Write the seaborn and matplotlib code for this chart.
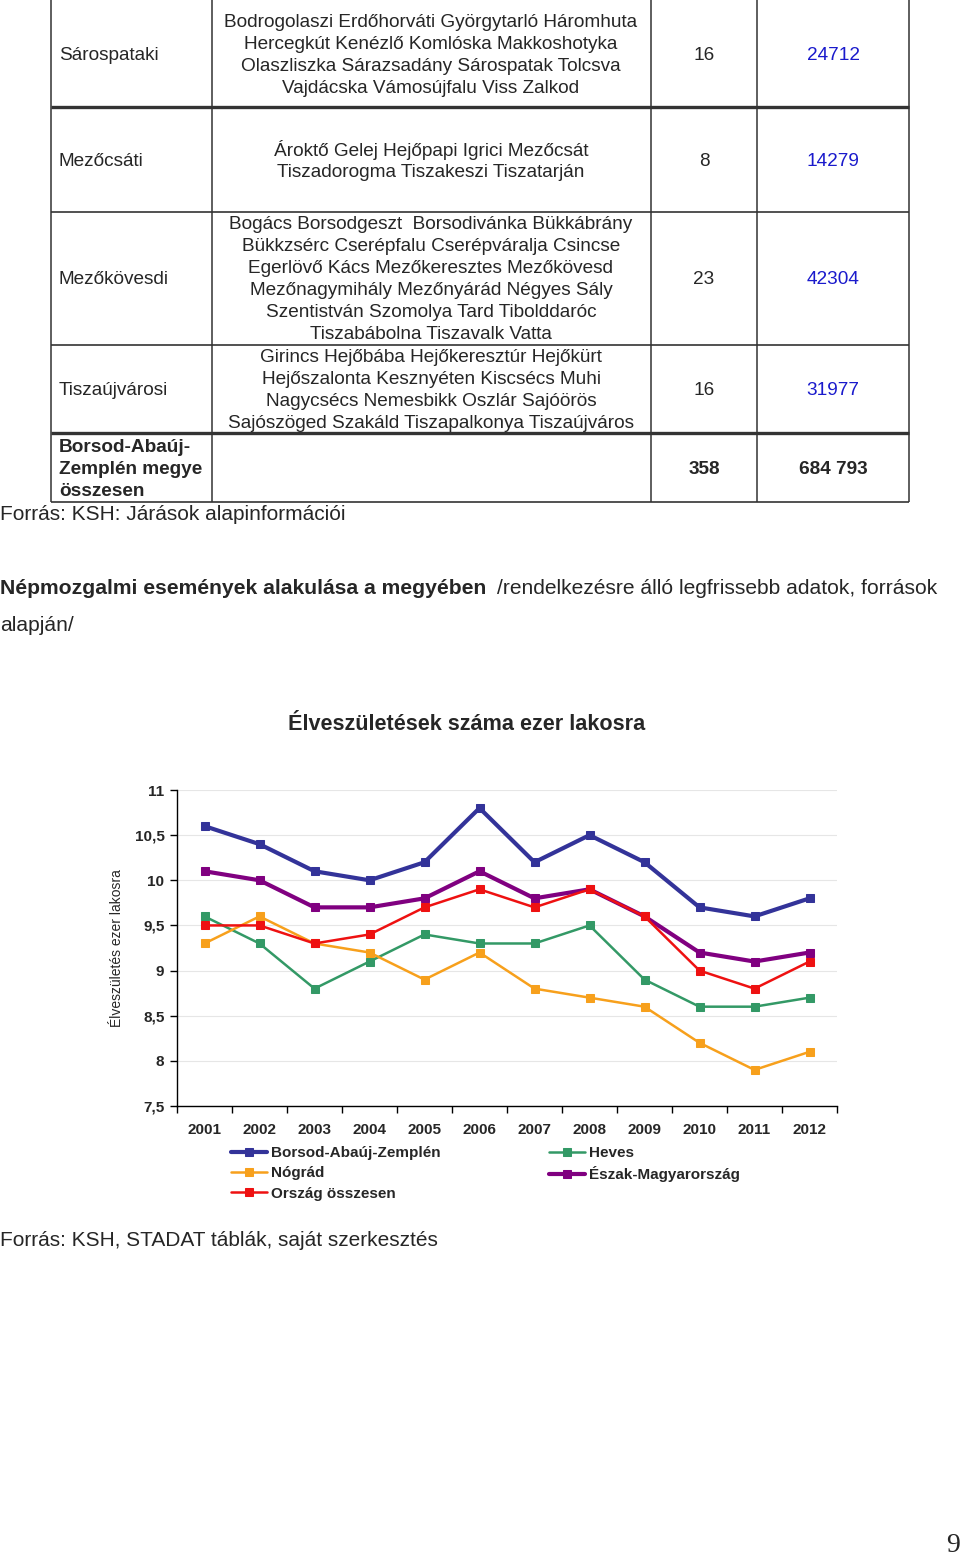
import numpy as np
import pandas as pd
import matplotlib
matplotlib.use('Agg')
import matplotlib.pyplot as plt
import seaborn as sns

sns.set_style('white')
plt.rcParams['font.family'] = ['Liberation Sans', 'DejaVu Sans']

# table data (continued table from previous page)
districts = ['Sárospataki', 'Mezőcsáti', 'Mezőkövesdi', 'Tiszaújvárosi']
settlements = [
    ['Bodrogolaszi Erdőhorváti Györgytarló Háromhuta',
     'Hercegkút Kenézlő Komlóska Makkoshotyka',
     'Olaszliszka Sárazsadány Sárospatak Tolcsva',
     'Vajdácska Vámosújfalu Viss Zalkod'],
    ['Ároktő Gelej Hejőpapi Igrici Mezőcsát',
     'Tiszadorogma Tiszakeszi Tiszatarján'],
    ['Bogács Borsodgeszt  Borsodivánka Bükkábrány',
     'Bükkzsérc Cserépfalu Cserépváralja Csincse',
     'Egerlövő Kács Mezőkeresztes Mezőkövesd',
     'Mezőnagymihály Mezőnyárád Négyes Sály',
     'Szentistván Szomolya Tard Tibolddaróc',
     'Tiszabábolna Tiszavalk Vatta'],
    ['Girincs Hejőbába Hejőkeresztúr Hejőkürt',
     'Hejőszalonta Kesznyéten Kiscsécs Muhi',
     'Nagycsécs Nemesbikk Oszlár Sajóörös',
     'Sajószöged Szakáld Tiszapalkonya Tiszaújváros']]
n_settlements = ['16', '8', '23', '16']
population = ['24712', '14279', '42304', '31977']
total_label = ['Borsod-Abaúj-', 'Zemplén megye', 'összesen']
total_settlements = '358'
total_population = '684 793'

# chart data
years = [str(y) for y in range(2001, 2013)]
borsod = [10.6, 10.4, 10.1, 10.0, 10.2, 10.8, 10.2, 10.5, 10.2, 9.7, 9.6, 9.8]
heves = [9.6, 9.3, 8.8, 9.1, 9.4, 9.3, 9.3, 9.5, 8.9, 8.6, 8.6, 8.7]
nograd = [9.3, 9.6, 9.3, 9.2, 8.9, 9.2, 8.8, 8.7, 8.6, 8.2, 7.9, 8.1]
eszak = [10.1, 10.0, 9.7, 9.7, 9.8, 10.1, 9.8, 9.9, 9.6, 9.2, 9.1, 9.2]
orszag = [9.5, 9.5, 9.3, 9.4, 9.7, 9.9, 9.7, 9.9, 9.6, 9.0, 8.8, 9.1]

series = {
    'Borsod-Abaúj-Zemplén': borsod,
    'Heves': heves,
    'Nógrád': nograd,
    'Észak-Magyarország': eszak,
    'Ország összesen': orszag,
}
colors = {
    'Borsod-Abaúj-Zemplén': '#333399',
    'Heves': '#339966',
    'Nógrád': '#F7A01C',
    'Észak-Magyarország': '#800080',
    'Ország összesen': '#EE1111',
}
widths = {
    'Borsod-Abaúj-Zemplén': 3.0,
    'Heves': 1.8,
    'Nógrád': 1.8,
    'Észak-Magyarország': 3.0,
    'Ország összesen': 1.8,
}
ytick_vals = [7.5, 8, 8.5, 9, 9.5, 10, 10.5, 11]
ytick_labels = ['7,5', '8', '8,5', '9', '9,5', '10', '10,5', '11']

W, H = 960, 1558
fig = plt.figure(figsize=(W / 100, H / 100), dpi=100)

# page layer in pixel coordinates
page = fig.add_axes([0, 0, 1, 1])
page.set_xlim(0, W)
page.set_ylim(H, 0)
page.axis('off')

col_x = [51, 212, 651, 757, 909]
row_y = [0, 107, 212, 345, 433, 502]
row_lw = [0, 2.4, 1.2, 1.2, 2.4, 1.2]
line_col = '#333333'
for x in col_x:
    page.plot([x, x], [0, 502], color=line_col, lw=1.1, solid_capstyle='butt')
for y, lw in zip(row_y[1:], row_lw[1:]):
    page.plot([col_x[0], col_x[-1]], [y, y], color=line_col, lw=lw, solid_capstyle='butt')

fs = 13.7
line_h = 22
centers = [55, 161, 279, 390]
for i, name in enumerate(districts):
    cy = centers[i]
    page.text(59, cy, name, fontsize=fs, ha='left', va='center')
    lines = settlements[i]
    n = len(lines)
    for j, ln in enumerate(lines):
        page.text(431, cy + (j - (n - 1) / 2) * line_h, ln, fontsize=fs,
                  ha='center', va='center')
    page.text(704, cy, n_settlements[i], fontsize=fs, ha='center', va='center')
    page.text(833, cy, population[i], fontsize=fs, ha='center', va='center',
              color='#1a1acc')

for j, ln in enumerate(total_label):
    page.text(59, 469 + (j - 1) * line_h, ln, fontsize=fs, ha='left',
              va='center', fontweight='bold')
page.text(704, 469, total_settlements, fontsize=fs, ha='center', va='center',
          fontweight='bold')
page.text(833, 469, total_population, fontsize=fs, ha='center', va='center',
          fontweight='bold')

page.text(0, 515, 'Forrás: KSH: Járások alapinformációi', fontsize=15,
          ha='left', va='center')

page.text(0, 588, 'Népmozgalmi események alakulása a megyében', fontsize=15.2,
          ha='left', va='center', fontweight='bold')
page.text(497, 588, '/rendelkezésre álló legfrissebb adatok, források',
          fontsize=15.1, ha='left', va='center')
page.text(0, 625, 'alapján/', fontsize=15.1, ha='left', va='center')

page.text(467, 724, 'Élveszületések száma ezer lakosra', fontsize=15.6,
          ha='center', va='center', fontweight='bold')

page.text(0, 1241, 'Forrás: KSH, STADAT táblák, saját szerkesztés',
          fontsize=15, ha='left', va='center')
page.text(953, 1546, '9', fontsize=20, ha='center', va='center',
          family='Liberation Serif')

# chart
ax = fig.add_axes([177 / W, 1 - 1106 / H, (837 - 177) / W, (1106 - 790) / H])
df = pd.DataFrame([
    {'year': i, 'series': name, 'value': v}
    for name, vals in series.items() for i, v in enumerate(vals)
])
for name in series:
    sub = df[df['series'] == name]
    sns.lineplot(data=sub, x='year', y='value', ax=ax, color=colors[name],
                 linewidth=widths[name], marker='s', markersize=6,
                 markeredgecolor=colors[name], label=name, legend=False)

ax.set_xlim(-0.5, 11.5)
ax.set_ylim(7.5, 11)
ax.set_yticks(ytick_vals)
ax.set_yticklabels(ytick_labels, fontsize=11, fontweight='bold')
ax.set_xticks(range(12))
ax.set_xticklabels(years, fontsize=11, fontweight='bold')
ax.set_xticks(np.arange(-0.5, 12, 1), minor=True)
ax.tick_params(axis='x', which='major', length=0, pad=12)
ax.tick_params(axis='x', which='minor', length=5, width=1, direction='out',
               color='black', bottom=True)
ax.tick_params(axis='y', length=5, width=1, direction='out', color='black',
               left=True, pad=4)
ax.grid(axis='y', color='#e6e6e6', lw=0.8)
ax.set_axisbelow(True)
for s in ['top', 'right']:
    ax.spines[s].set_visible(False)
for s in ['left', 'bottom']:
    ax.spines[s].set_color('black')
    ax.spines[s].set_linewidth(1)
ax.set_xlabel('')
ax.set_ylabel('Élveszületés ezer lakosra', fontsize=10, labelpad=8)

handles = {h.get_label(): h for h in ax.get_lines() if not h.get_label().startswith('_')}
order = ['Borsod-Abaúj-Zemplén', 'Nógrád', 'Ország összesen', 'Heves',
         'Észak-Magyarország']
leg = fig.legend([handles[k] for k in order], order, ncol=2,
                 loc='upper left', bbox_to_anchor=(231 / W, 1 - 1146 / H),
                 frameon=False, prop={'size': 11, 'weight': 'bold'},
                 handlelength=2.35, handletextpad=0.25, columnspacing=7.1,
                 labelspacing=0.42, borderpad=0, borderaxespad=0)

fig.savefig('out.png', dpi=100)
